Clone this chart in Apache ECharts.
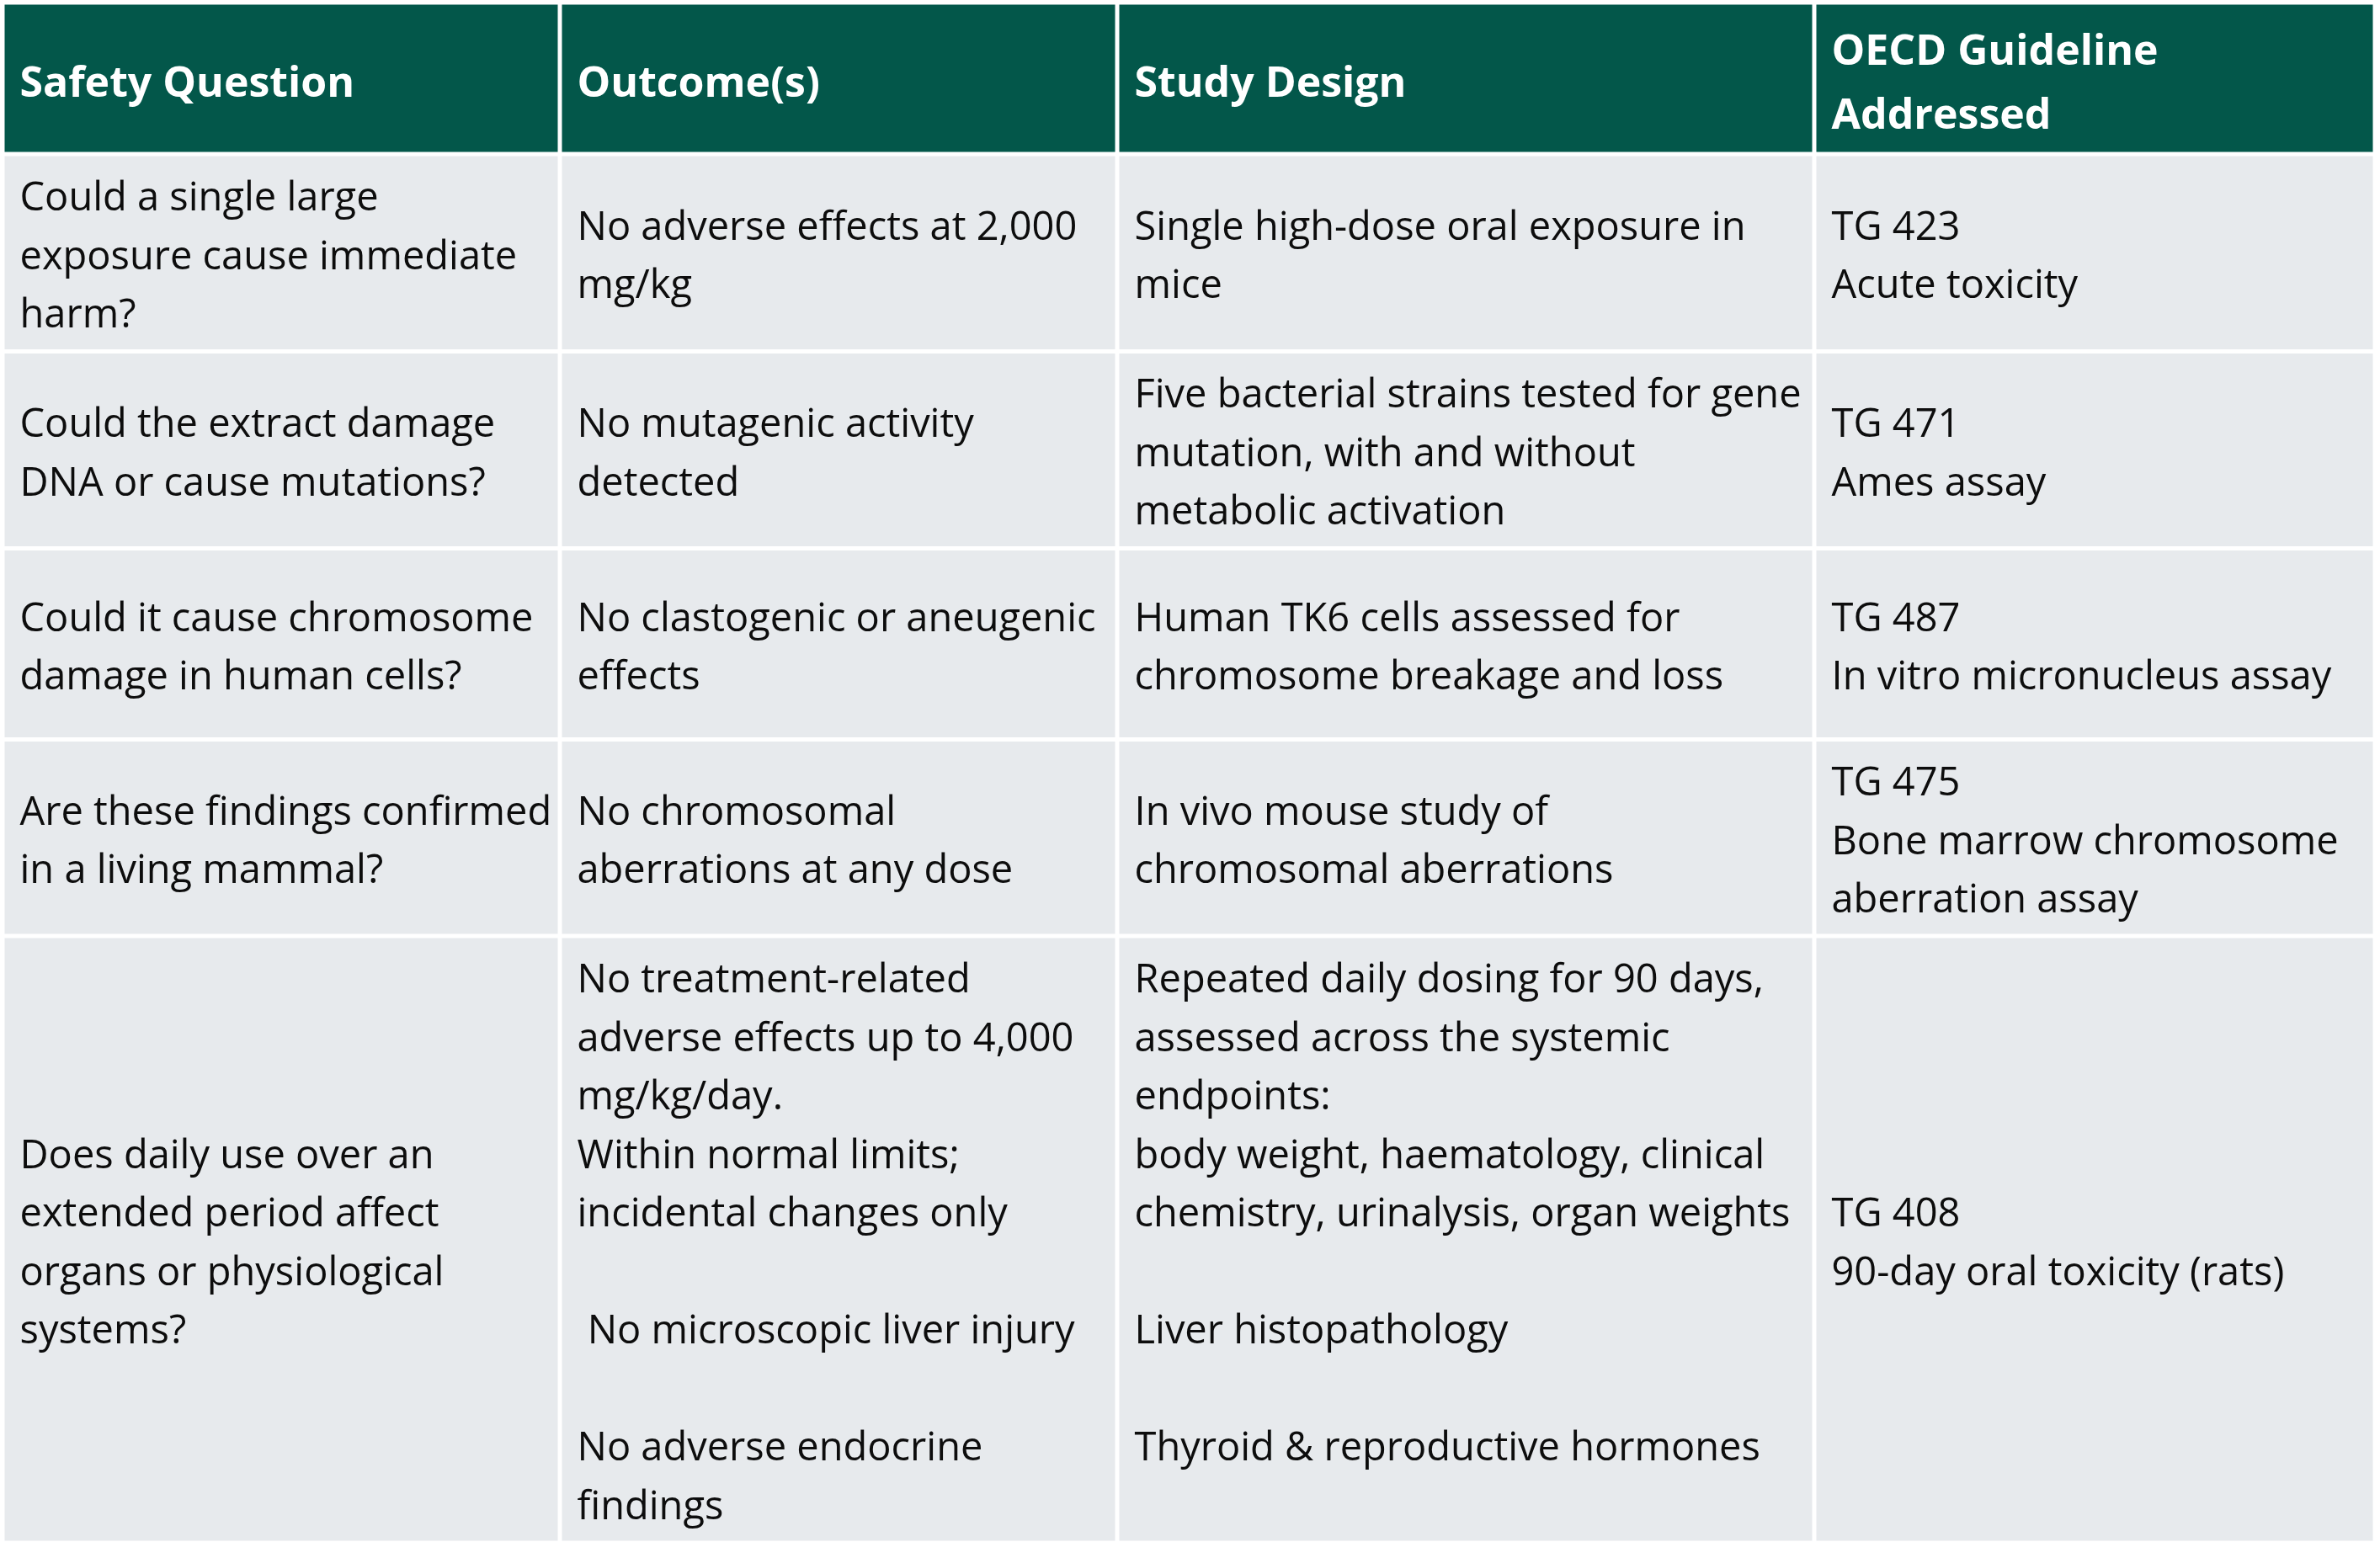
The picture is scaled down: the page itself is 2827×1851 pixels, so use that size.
<!DOCTYPE html>
<html>
<head>
    <meta charset="utf-8">
    <script src="https://cdn.jsdelivr.net/npm/echarts@6/dist/echarts.min.js"></script>
    <style>
        html, body { margin: 0; padding: 0; background: #ffffff; }
    </style>
</head>
<body>
    <div id="main" style="width: 2827px; height: 1851px;"></div>
    <script type="text/javascript">
        // table content, one array per column
        var headers = ['Safety Question', 'Outcome(s)', 'Study Design', 'OECD Guideline\nAddressed'];

        var safetyQuestions = [
            'Could a single large\nexposure cause immediate\nharm?',
            'Could the extract damage\nDNA or cause mutations?',
            'Could it cause chromosome\ndamage in human cells?',
            'Are these findings confirmed\nin a living mammal?',
            'Does daily use over an\nextended period affect\norgans or physiological\nsystems?'
        ];

        var outcomes = [
            'No adverse effects at 2,000\nmg/kg',
            'No mutagenic activity\ndetected',
            'No clastogenic or aneugenic\neffects',
            'No chromosomal\naberrations at any dose',
            'No treatment-related\nadverse effects up to 4,000\nmg/kg/day.\nWithin normal limits;\nincidental changes only\n\n No microscopic liver injury\n\nNo adverse endocrine\nfindings'
        ];

        var studyDesigns = [
            'Single high-dose oral exposure in\nmice',
            'Five bacterial strains tested for gene\nmutation, with and without\nmetabolic activation',
            'Human TK6 cells assessed for\nchromosome breakage and loss',
            'In vivo mouse study of\nchromosomal aberrations',
            'Repeated daily dosing for 90 days,\nassessed across the systemic\nendpoints:\nbody weight, haematology, clinical\nchemistry, urinalysis, organ weights\n\nLiver histopathology\n\nThyroid & reproductive hormones\n'
        ];

        var guidelines = [
            'TG 423\nAcute toxicity',
            'TG 471\nAmes assay',
            'TG 487\nIn vitro micronucleus assay',
            'TG 475\nBone marrow chromosome\naberration assay',
            'TG 408\n90-day oral toxicity (rats)'
        ];

        // layout (pixels of the table)
        var colWidths = [662, 662, 828, 666];
        var rowHeights = [180, 234.5, 234, 227, 233.5, 721];
        var GAP = 5;
        var PAD = 18;

        var colEdges = [0];
        colWidths.forEach(function (w) { colEdges.push(colEdges[colEdges.length - 1] + w); });
        var rowEdges = [0];
        rowHeights.forEach(function (h) { rowEdges.push(rowEdges[rowEdges.length - 1] + h); });

        var columns = [safetyQuestions, outcomes, studyDesigns, guidelines];
        var cells = [];
        var cellText = [];
        for (var c = 0; c < headers.length; c++) {
            cells.push([c, 0]);
            cellText.push(headers[c]);
        }
        for (var r = 0; r < safetyQuestions.length; r++) {
            for (var c2 = 0; c2 < columns.length; c2++) {
                cells.push([c2, r + 1]);
                cellText.push(columns[c2][r]);
            }
        }

        var FONT = '"Open Sans", "Noto Sans", sans-serif';

        function renderCell(params, api) {
            var c = api.value(0);
            var r = api.value(1);
            var p0 = api.coord([colEdges[c], rowEdges[r]]);
            var p1 = api.coord([colEdges[c + 1], rowEdges[r + 1]]);
            var x = p0[0] + GAP / 2;
            var y = p0[1] + GAP / 2;
            var w = p1[0] - p0[0] - GAP;
            var h = p1[1] - p0[1] - GAP;
            var isHead = r === 0;
            return {
                type: 'group',
                children: [{
                    type: 'rect',
                    shape: { x: x, y: y, width: w, height: h },
                    style: { fill: isHead ? '#03574a' : '#e7eaed' }
                }, {
                    type: 'text',
                    style: {
                        text: cellText[params.dataIndex],
                        x: x + PAD,
                        y: y + h / 2 + (isHead ? 8 : 6),
                        align: 'left',
                        verticalAlign: 'middle',
                        fontFamily: FONT,
                        fontSize: isHead ? 50 : 47,
                        fontWeight: isHead ? 'bold' : 'normal',
                        lineHeight: isHead ? 76 : 69.5,
                        fill: isHead ? '#ffffff' : '#0d0d0d'
                    }
                }]
            };
        }

        var myChart = echarts.init(document.getElementById('main'));
        var option = {
            backgroundColor: '#ffffff',
            animation: false,
            grid: { left: 3, top: 3, width: colEdges[colEdges.length - 1], height: rowEdges[rowEdges.length - 1] },
            xAxis: { type: 'value', min: 0, max: colEdges[colEdges.length - 1], show: false },
            yAxis: { type: 'value', min: 0, max: rowEdges[rowEdges.length - 1], inverse: true, show: false },
            series: [{
                type: 'custom',
                renderItem: renderCell,
                clip: false,
                data: cells
            }]
        };
        myChart.setOption(option);
    </script>
</body>
</html>
